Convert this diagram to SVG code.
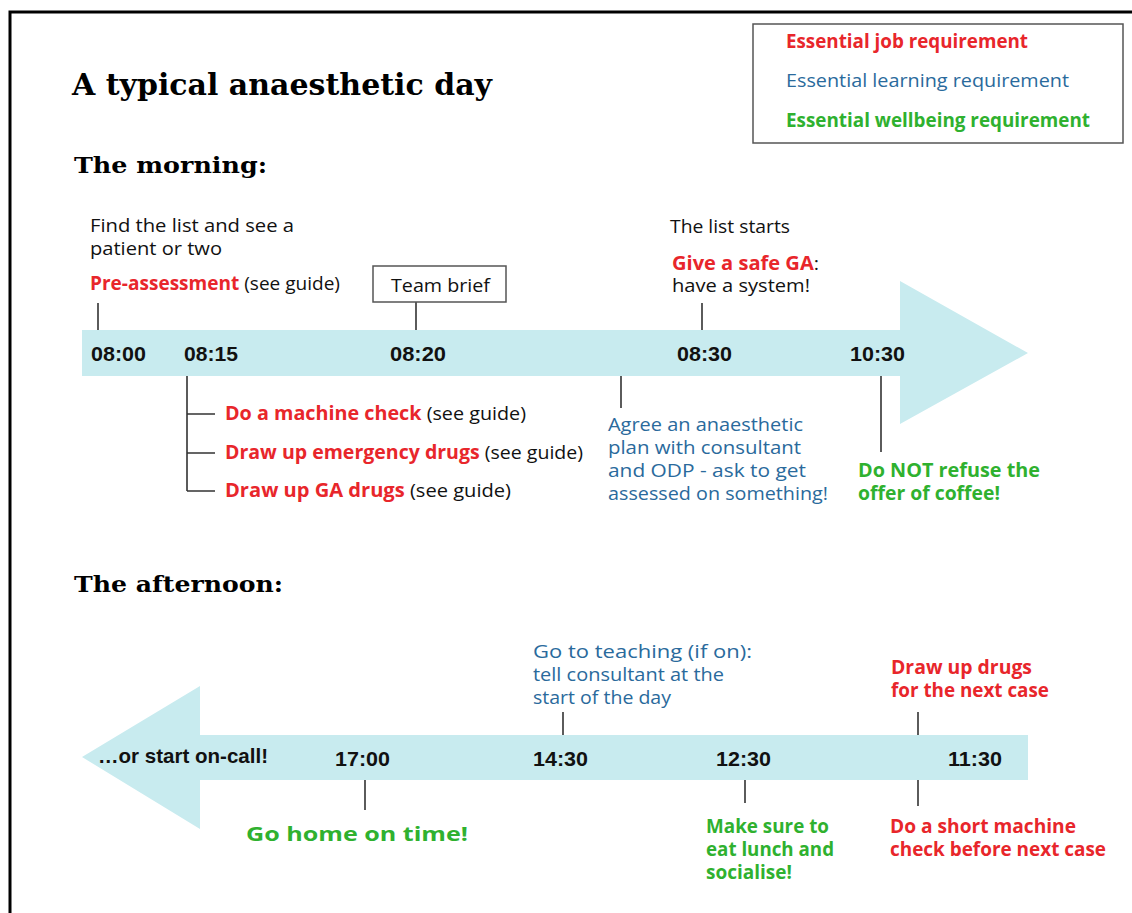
<svg xmlns="http://www.w3.org/2000/svg" width="1132" height="913" viewBox="0 0 1132 913">
  <style>
    .title { font-family: "DejaVu Serif", "Liberation Serif", serif; font-weight: bold; fill: #000; }
    .body { font-family: "Open Sans", Lato, "Liberation Sans", sans-serif; font-size: 19px; fill: #111; }
    .job { fill: #e8262b; font-weight: bold; }
    .learn { fill: #2a6a9c; }
    .well { fill: #2fb12f; font-weight: bold; }
    .time { font-family: "Liberation Sans", Arial, sans-serif; font-weight: bold; font-size: 21px; fill: #111; }
    .tick { stroke: #333; stroke-width: 1.6; fill: none; }
    .band { fill: #c8ebef; }
  </style>

  <rect width="1132" height="913" fill="#fff"/>
  <!-- page frame -->
  <path d="M10 913 V12 H1132" fill="none" stroke="#000" stroke-width="3"/>

  <!-- heading -->
  <g id="heading">
    <text class="title" x="72" y="95" font-size="29" textLength="420" lengthAdjust="spacingAndGlyphs">A typical anaesthetic day</text>
    <text class="title" x="74" y="173" font-size="23" textLength="193" lengthAdjust="spacingAndGlyphs">The morning:</text>
    <text class="title" x="74" y="592" font-size="23" textLength="209" lengthAdjust="spacingAndGlyphs">The afternoon:</text>
  </g>

  <!-- key -->
  <g id="legend">
    <rect x="753" y="24" width="370" height="119" fill="#fff" stroke="#555" stroke-width="1.5"/>
    <text class="body job" x="786" y="48" font-size="18" textLength="242" lengthAdjust="spacingAndGlyphs">Essential job requirement</text>
    <text class="body learn" x="786" y="87" font-size="18" textLength="283" lengthAdjust="spacingAndGlyphs">Essential learning requirement</text>
    <text class="body well" x="786" y="127" font-size="18" textLength="304" lengthAdjust="spacingAndGlyphs">Essential wellbeing requirement</text>
  </g>

  <!-- morning timeline -->
  <g id="morning-arrow">
    <polygon class="band" points="82,330 900,330 900,281 1028,353 900,424 900,376 82,376"/>
    <text class="time" x="91" y="361" textLength="55" lengthAdjust="spacingAndGlyphs">08:00</text>
    <text class="time" x="184" y="361" textLength="54" lengthAdjust="spacingAndGlyphs">08:15</text>
    <text class="time" x="390" y="361" textLength="56" lengthAdjust="spacingAndGlyphs">08:20</text>
    <text class="time" x="677" y="361" textLength="55" lengthAdjust="spacingAndGlyphs">08:30</text>
    <text class="time" x="850" y="361" textLength="55" lengthAdjust="spacingAndGlyphs">10:30</text>
  </g>

  <!-- afternoon timeline -->
  <g id="afternoon-arrow">
    <polygon class="band" points="1028,735 1028,780 200,780 200,829 82,757 200,686 200,735"/>
    <text class="time" x="98" y="763" font-size="19" textLength="170" lengthAdjust="spacingAndGlyphs">…or start on-call!</text>
    <text class="time" x="335" y="766" textLength="55" lengthAdjust="spacingAndGlyphs">17:00</text>
    <text class="time" x="533" y="766" textLength="55" lengthAdjust="spacingAndGlyphs">14:30</text>
    <text class="time" x="716" y="766" textLength="55" lengthAdjust="spacingAndGlyphs">12:30</text>
    <text class="time" x="948" y="766" textLength="54" lengthAdjust="spacingAndGlyphs">11:30</text>
  </g>

  <!-- leader lines -->
  <g id="connectors">
    <line class="tick" x1="98" y1="303" x2="98" y2="330"/>
    <line class="tick" x1="416" y1="302" x2="416" y2="330"/>
    <line class="tick" x1="702" y1="303" x2="702" y2="330"/>
    <path class="tick" d="M187 376 V491 M187 414 H215 M187 453 H215 M187 491 H215"/>
    <line class="tick" x1="621" y1="376" x2="621" y2="408"/>
    <line class="tick" x1="881" y1="376" x2="881" y2="452"/>
    <line class="tick" x1="563" y1="712" x2="563" y2="735"/>
    <line class="tick" x1="918" y1="712" x2="918" y2="735"/>
    <line class="tick" x1="365" y1="780" x2="365" y2="810"/>
    <line class="tick" x1="745" y1="780" x2="745" y2="803"/>
    <line class="tick" x1="918" y1="780" x2="918" y2="806"/>
  </g>

  <g id="find-list">
    <text class="body" x="90" y="232" textLength="204" lengthAdjust="spacingAndGlyphs">Find the list and see a</text>
    <text class="body" x="90" y="255" textLength="132" lengthAdjust="spacingAndGlyphs">patient or two</text>
    <text class="body" x="90" y="290" textLength="250" lengthAdjust="spacingAndGlyphs"><tspan class="job">Pre-assessment</tspan> (see guide)</text>
  </g>

  <g id="team-brief">
    <rect x="373" y="266" width="133" height="36" fill="#fff" stroke="#555" stroke-width="1.5"/>
    <text class="body" x="391" y="292" textLength="99" lengthAdjust="spacingAndGlyphs">Team brief</text>
  </g>

  <g id="list-starts">
    <text class="body" x="670" y="233" textLength="120" lengthAdjust="spacingAndGlyphs">The list starts</text>
    <text class="body" x="672" y="270" textLength="147" lengthAdjust="spacingAndGlyphs"><tspan class="job">Give a safe GA</tspan>:</text>
    <text class="body" x="672" y="292" textLength="138" lengthAdjust="spacingAndGlyphs">have a system!</text>
  </g>

  <g id="checks">
    <text class="body" x="225" y="420" textLength="301" lengthAdjust="spacingAndGlyphs"><tspan class="job">Do a machine check</tspan> (see guide)</text>
    <text class="body" x="225" y="459" textLength="358" lengthAdjust="spacingAndGlyphs"><tspan class="job">Draw up emergency drugs</tspan> (see guide)</text>
    <text class="body" x="225" y="497" textLength="286" lengthAdjust="spacingAndGlyphs"><tspan class="job">Draw up GA drugs</tspan> (see guide)</text>
  </g>

  <g id="agree-plan">
    <text class="body learn" x="608" y="431" textLength="195" lengthAdjust="spacingAndGlyphs">Agree an anaesthetic</text>
    <text class="body learn" x="608" y="454" textLength="193" lengthAdjust="spacingAndGlyphs">plan with consultant</text>
    <text class="body learn" x="608" y="477" textLength="198" lengthAdjust="spacingAndGlyphs">and ODP - ask to get</text>
    <text class="body learn" x="608" y="500" textLength="220" lengthAdjust="spacingAndGlyphs">assessed on something!</text>
  </g>

  <g id="coffee">
    <text class="body well" x="858" y="477" textLength="182" lengthAdjust="spacingAndGlyphs">Do NOT refuse the</text>
    <text class="body well" x="858" y="500" textLength="142" lengthAdjust="spacingAndGlyphs">offer of coffee!</text>
  </g>

  <g id="teaching">
    <text class="body learn" x="533" y="658" textLength="219" lengthAdjust="spacingAndGlyphs">Go to teaching (if on):</text>
    <text class="body learn" x="533" y="681" textLength="191" lengthAdjust="spacingAndGlyphs">tell consultant at the</text>
    <text class="body learn" x="533" y="704" textLength="138" lengthAdjust="spacingAndGlyphs">start of the day</text>
  </g>

  <g id="draw-up-next">
    <text class="body job" x="891" y="674" textLength="141" lengthAdjust="spacingAndGlyphs">Draw up drugs</text>
    <text class="body job" x="891" y="697" textLength="158" lengthAdjust="spacingAndGlyphs">for the next case</text>
  </g>

  <g id="go-home">
    <text class="body well" x="246" y="841" font-size="27" textLength="222" lengthAdjust="spacingAndGlyphs">Go home on time!</text>
  </g>

  <g id="lunch">
    <text class="body well" x="706" y="833" textLength="123" lengthAdjust="spacingAndGlyphs">Make sure to</text>
    <text class="body well" x="706" y="856" textLength="128" lengthAdjust="spacingAndGlyphs">eat lunch and</text>
    <text class="body well" x="706" y="879" textLength="86" lengthAdjust="spacingAndGlyphs">socialise!</text>
  </g>

  <g id="short-check">
    <text class="body job" x="890" y="833" textLength="186" lengthAdjust="spacingAndGlyphs">Do a short machine</text>
    <text class="body job" x="890" y="856" textLength="216" lengthAdjust="spacingAndGlyphs">check before next case</text>
  </g>
</svg>
